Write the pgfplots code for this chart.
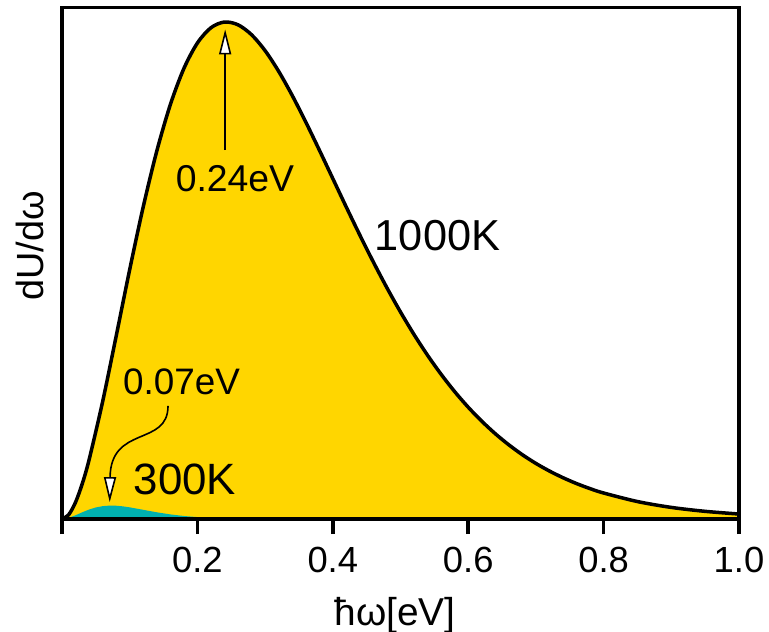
\documentclass[border=0pt]{standalone}
\usepackage{pgfplots}
\pgfplotsset{compat=1.18}
\usepackage{fontspec}
\setmainfont{Liberation Sans}
\usetikzlibrary{arrows.meta}
\definecolor{gold}{RGB}{255,214,0}
\definecolor{teal2}{RGB}{0,176,176}
\begin{document}
\begin{tikzpicture}
\begin{axis}[
  scale only axis, width=677bp, height=511.5bp,
  xmin=0, xmax=1, ymin=0, ymax=1.029,
  clip=false,
  axis on top,
  axis line style={line width=3.5bp},
  xtick={0,0.2,0.4,0.6,0.8,1.0},
  xticklabels={,0.2,0.4,0.6,0.8,1.0},
  ytick=\empty,
  major tick length=0pt,
  x tick label style={font=\fontsize{36.5}{40}\selectfont, anchor=base, inner sep=0pt, yshift=-53bp},
  /pgf/number format/assume math mode=true,
]
\addplot[draw=none, fill=gold] table {
0 0
0.01 0.0089
0.02 0.0337
0.03 0.0713
0.04 0.1191
0.06 0.2360
0.08 0.3678
0.10 0.5018
0.12 0.6281
0.14 0.7401
0.16 0.8335
0.18 0.9062
0.20 0.9576
0.22 0.9883
0.24 0.9998
0.26 0.9942
0.28 0.9742
0.30 0.9422
0.32 0.9007
0.34 0.8522
0.36 0.7988
0.38 0.7425
0.40 0.6849
0.42 0.6273
0.44 0.5710
0.46 0.5167
0.48 0.4650
0.50 0.4164
0.52 0.3711
0.54 0.3293
0.56 0.2911
0.58 0.2563
0.60 0.2249
0.62 0.1968
0.64 0.1716
0.66 0.1492
0.68 0.1293
0.70 0.1118
0.72 0.0965
0.74 0.0831
0.76 0.0713
0.78 0.0611
0.80 0.0523
0.85 0.0351
0.90 0.0233
0.95 0.0154
1.00 0.0100
} \closedcycle;
\addplot[draw=none, fill=teal2] table {
0 0
0.01 0.00233
0.02 0.00753
0.03 0.01355
0.04 0.01902
0.05 0.02322
0.06 0.02586
0.07 0.02694
0.08 0.02671
0.09 0.02544
0.10 0.02347
0.12 0.01849
0.14 0.01348
0.16 0.00926
0.18 0.00607
0.20 0.00384
0.22 0.00236
0.25 0.00108
0.30 0.00027
} \closedcycle;
\addplot[black, line width=3.5bp, smooth, tension=0.5] table {
0 0
0.01 0.0089
0.02 0.0337
0.03 0.0713
0.04 0.1191
0.06 0.2360
0.08 0.3678
0.10 0.5018
0.12 0.6281
0.14 0.7401
0.16 0.8335
0.18 0.9062
0.20 0.9576
0.22 0.9883
0.24 0.9998
0.26 0.9942
0.28 0.9742
0.30 0.9422
0.32 0.9007
0.34 0.8522
0.36 0.7988
0.38 0.7425
0.40 0.6849
0.42 0.6273
0.44 0.5710
0.46 0.5167
0.48 0.4650
0.50 0.4164
0.52 0.3711
0.54 0.3293
0.56 0.2911
0.58 0.2563
0.60 0.2249
0.62 0.1968
0.64 0.1716
0.66 0.1492
0.68 0.1293
0.70 0.1118
0.72 0.0965
0.74 0.0831
0.76 0.0713
0.78 0.0611
0.80 0.0523
0.85 0.0351
0.90 0.0233
0.95 0.0154
1.00 0.0100
};
% tick marks below the axis, set as rules
\node[anchor=north, inner sep=0pt] at (axis cs:0,0) {\rule{3.5bp}{15bp}};
\node[anchor=north, inner sep=0pt] at (axis cs:0.2,0) {\rule{3.5bp}{15bp}};
\node[anchor=north, inner sep=0pt] at (axis cs:0.4,0) {\rule{3.5bp}{15bp}};
\node[anchor=north, inner sep=0pt] at (axis cs:0.6,0) {\rule{3.5bp}{15bp}};
\node[anchor=north, inner sep=0pt] at (axis cs:0.8,0) {\rule{3.5bp}{15bp}};
\node[anchor=north, inner sep=0pt] at (axis cs:1.0,0) {\rule{3.5bp}{15bp}};
% annotations
\draw[line width=1.6bp, -{Triangle[length=25bp, width=12bp, fill=white]}]
  (axis cs:0.241,0.742) -- (axis cs:0.241,0.985);
\node[anchor=base, inner sep=0pt, font=\fontsize{37.5}{40}\selectfont] at (axis cs:0.2555,0.658) {0.24eV};
\draw[line width=1.6bp, -{Triangle[length=25bp, width=12bp, fill=white]}]
  (axis cs:0.1566,0.2274) .. controls (axis cs:0.1566,0.145) and (axis cs:0.072,0.19) .. (axis cs:0.0705,0.034);
\node[anchor=base, inner sep=0pt, font=\fontsize{37}{40}\selectfont] at (axis cs:0.1765,0.2495) {0.07eV};
\node[anchor=base, inner sep=0pt, font=\fontsize{44}{48}\selectfont] at (axis cs:0.1817,0.0483) {300K};
\node[anchor=base, inner sep=0pt, font=\fontsize{43.5}{48}\selectfont] at (axis cs:0.5547,0.541) {1000K};
\node[rotate=90, anchor=center, inner sep=0pt, font=\fontsize{38}{40}\selectfont] at (axis cs:-0.047,0.549) {dU/dω};
\node[anchor=base, inner sep=0pt, font=\fontsize{39}{42}\selectfont] at (axis cs:0.492,0) [yshift=-106bp] {ħω[eV]};
\end{axis}
\pgfresetboundingbox
\path[use as bounding box] (-62bp,-113bp) rectangle (707bp,519bp);
\end{tikzpicture}
\end{document}
